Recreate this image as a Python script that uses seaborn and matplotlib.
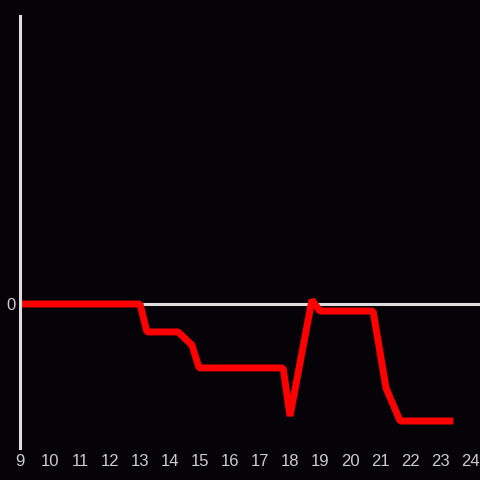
import matplotlib
matplotlib.use("Agg")
import matplotlib.pyplot as plt
import seaborn as sns
import pandas as pd

# hour of day vs. value
hours = [9.0, 13.0, 13.23, 14.27, 14.73, 14.97, 17.77, 18.0, 18.73, 19.0, 20.77, 21.2, 21.67, 23.33]
values = [0.0, 0.0, -0.194, -0.194, -0.285, -0.444, -0.444, -0.778, 0.028, -0.049, -0.049, -0.583, -0.8125, -0.8125]
tick_hours = list(range(9, 25))

bg = "#050308"
grey = "#dddddd"

sns.set_theme(style="dark")
plt.rcParams["font.family"] = ["Liberation Sans", "DejaVu Sans"]

df = pd.DataFrame({"hour": hours, "value": values})

fig = plt.figure(figsize=(4.8, 4.8), dpi=100, facecolor=bg)
ax = fig.add_axes([20 / 480, 32 / 480, 460 / 480, 432 / 480])
ax.set_facecolor(bg)

ax.axhline(0, color=grey, linewidth=2.2, zorder=1)
sns.lineplot(data=df, x="hour", y="value", color="#ff0000", linewidth=5, ax=ax, zorder=2)
for line in ax.lines[1:]:
    line.set_solid_capstyle("projecting")
    line.set_solid_joinstyle("bevel")

ax.set_xlim(9, 24.333)
ax.set_ylim(-1, 2)
ax.set_xticks(tick_hours)
ax.set_xticklabels([str(h) for h in tick_hours])
ax.set_yticks([0])
ax.set_yticklabels(["0"])
ax.tick_params(colors="#cccccc", labelsize=12, length=0)
ax.tick_params(axis="x", pad=4)
ax.tick_params(axis="y", pad=3)
ax.set_xlabel("")
ax.set_ylabel("")
ax.grid(False)

for side in ["top", "right", "bottom"]:
    ax.spines[side].set_visible(False)
ax.spines["left"].set_color(grey)
ax.spines["left"].set_linewidth(2.2)
ax.spines["left"].set_zorder(5)

fig.savefig("out.png", dpi=100, facecolor=bg)
